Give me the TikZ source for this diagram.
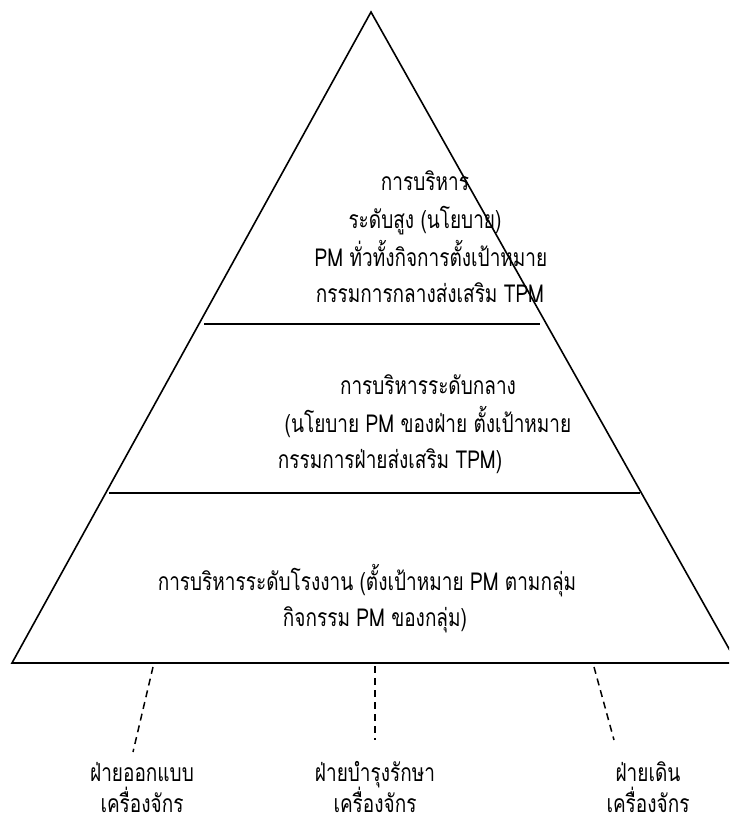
\documentclass[tikz,border=0pt]{standalone}
\usepackage{fontspec}
\usepackage{graphicx}
\newfontfamily\thaifont[Script=Thai]{Loma}
\newcommand{\tall}[1]{\scalebox{1}[1.3]{#1}}
\begin{document}
\begin{tikzpicture}[x=1pt,y=-1pt,
  edge/.style={line width=1.6pt,line join=miter},
  tier/.style={line width=1.4pt},
  dashlink/.style={line width=1.5pt,dash pattern=on 7pt off 5pt},
  txt/.style={font=\thaifont\fontsize{19}{19}\selectfont,inner sep=0pt,anchor=base}]
\useasboundingbox (0,0) rectangle (729,824);
\begin{scope}
\clip (0,0) rectangle (729,824);
\coordinate (apex) at (371,12);
\coordinate (bl) at (12,663);
\coordinate (br) at (737,663);
\draw[edge] (br) -- (apex) -- (bl) -- (br);
\end{scope}
\draw[tier] (204,324) -- (540,324);
\draw[tier] (109,493) -- (640,493);
% top tier
\node[txt] (t1) at (425,190) {\tall{การบริหาร}};
\node[txt] (t2) at (425,228) {\tall{ระดับสูง (นโยบาย)}};
\node[txt] (t3) at (431,266) {\tall{PM ทั่วทั้งกิจการตั้งเป้าหมาย}};
\node[txt] (t4) at (430,302) {\tall{กรรมการกลางส่งเสริม TPM}};
% middle tier
\node[txt] (m1) at (428,394) {\tall{การบริหารระดับกลาง}};
\node[txt] (m2) at (428,432) {\tall{(นโยบาย PM ของฝ่าย ตั้งเป้าหมาย}};
\node[txt] (m3) at (390,468) {\tall{กรรมการฝ่ายส่งเสริม TPM)}};
% bottom tier
\node[txt] (b1) at (367,590) {\tall{การบริหารระดับโรงงาน (ตั้งเป้าหมาย PM ตามกลุ่ม}};
\node[txt] (b2) at (375,626) {\tall{กิจกรรม PM ของกลุ่ม)}};
% departments
\node[txt] (d1a) at (142,781) {\tall{ฝ่ายออกแบบ}};
\node[txt] (d1b) at (142,812) {\tall{เครื่องจักร}};
\node[txt] (d2a) at (375,781) {\tall{ฝ่ายบำรุงรักษา}};
\node[txt] (d2b) at (375,812) {\tall{เครื่องจักร}};
\node[txt] (d3a) at (648,781) {\tall{ฝ่ายเดิน}};
\node[txt] (d3b) at (648,812) {\tall{เครื่องจักร}};
\coordinate (s1) at (153,667);
\coordinate (e1) at (133,752);
\coordinate (s2) at (375,666);
\coordinate (e2) at (375,740);
\coordinate (s3) at (594,667);
\coordinate (e3) at (614,740);
\draw[dashlink] (s1) -- (e1);
\draw[dashlink] (s2) -- (e2);
\draw[dashlink] (s3) -- (e3);
\end{tikzpicture}
\end{document}
